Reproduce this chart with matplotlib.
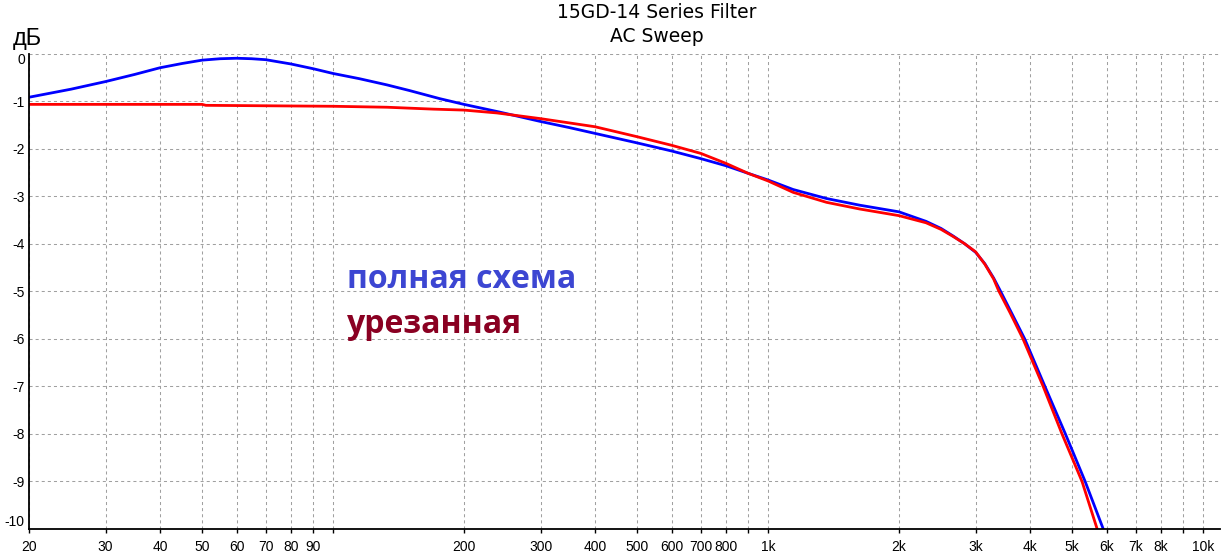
#!/usr/bin/env python3
# -*- coding: utf-8 -*-
"""AC sweep of the 15GD-14 series filter: full vs. trimmed circuit."""

import matplotlib
matplotlib.use("Agg")
import matplotlib.pyplot as plt
from matplotlib.ticker import FixedLocator, FixedFormatter

# ============== DATA ============== #
full_freq = [20, 25, 30, 35, 40, 45, 50, 55, 60, 65, 70, 80, 90, 100, 115,
             133, 150, 176, 200, 241, 300, 350, 400, 500, 600, 700, 800,
             900, 1000, 1142, 1363, 1624, 2000, 2308, 2500, 2666, 2830,
             3000, 3150, 3300, 3406, 3650, 3890, 4330, 4826, 5358, 5897,
             6000]
full_db = [-0.92, -0.75, -0.59, -0.44, -0.30, -0.21, -0.14, -0.11, -0.10,
           -0.11, -0.13, -0.22, -0.32, -0.42, -0.53, -0.66, -0.78, -0.95,
           -1.07, -1.23, -1.43, -1.56, -1.68, -1.88, -2.05, -2.21, -2.36,
           -2.52, -2.66, -2.86, -3.05, -3.19, -3.33, -3.53, -3.68, -3.84,
           -4.00, -4.18, -4.42, -4.72, -4.96, -5.50, -6.00, -7.00, -8.00,
           -9.00, -10.00, -10.2]

cut_freq = [20, 50, 51, 100, 133, 170, 200, 238, 300, 400, 500, 600, 700,
            800, 900, 1000, 1142, 1363, 1624, 2000, 2308, 2500, 2666, 2830,
            3000, 3150, 3300, 3390, 3600, 3855, 4290, 4740, 5270, 5710,
            5800]
cut_db = [-1.07, -1.07, -1.09, -1.11, -1.13, -1.17, -1.19, -1.25, -1.37,
          -1.54, -1.75, -1.93, -2.10, -2.31, -2.52, -2.68, -2.92, -3.13,
          -3.27, -3.41, -3.56, -3.70, -3.85, -4.00, -4.17, -4.43, -4.74,
          -4.99, -5.45, -6.00, -7.00, -8.00, -9.00, -10.00, -10.2]

x_ticks = [20, 30, 40, 50, 60, 70, 80, 90, 100, 200, 300, 400, 500, 600,
           700, 800, 900, 1000, 2000, 3000, 4000, 5000, 6000, 7000, 8000,
           9000, 10000]
x_labels = ["20", "30", "40", "50", "60", "70", "80", "90", "", "200",
            "300", "400", "500", "600", "700", "800", "", "1k", "2k", "3k",
            "4k", "5k", "6k", "7k", "8k", "", "10k"]
y_ticks = [0, -1, -2, -3, -4, -5, -6, -7, -8, -9, -10]
y_labels = ["0", "-1", "-2", "-3", "-4", "-5", "-6", "-7", "-8", "-9", "-10"]

title_lines = ["15GD-14 Series Filter", "AC Sweep"]
legend_full = "полная схема"
legend_cut = "урезанная"
# =========================================================== #

W, H = 1222, 554
plt.rcParams["font.family"] = ["Liberation Sans", "DejaVu Sans"]
plt.rcParams["lines.scale_dashes"] = False

fig = plt.figure(figsize=(W / 100, H / 100), dpi=100)
ax = fig.add_axes([29 / W, (H - 529) / H, 1191 / W, (529 - 53.5) / H])

ax.plot(full_freq, full_db, color="#0000ff", lw=2.0, solid_joinstyle="round")
ax.plot(cut_freq, cut_db, color="#ff0000", lw=2.0, solid_joinstyle="round")

ax.set_xscale("log")
ax.set_xlim(20, 10940)
ax.set_ylim(-10, 0)

ax.xaxis.set_major_locator(FixedLocator(x_ticks))
ax.xaxis.set_major_formatter(FixedFormatter(x_labels))
ax.xaxis.set_minor_locator(FixedLocator([]))
ax.yaxis.set_major_locator(FixedLocator(y_ticks))
ax.yaxis.set_major_formatter(FixedFormatter(y_labels))

ax.grid(True, color="#a0a0a0", lw=0.75, linestyle=(0, (2.2, 2.2)))
for side in ("top", "right"):
    ax.spines[side].set_visible(False)
for side in ("left", "bottom"):
    ax.spines[side].set_linewidth(1.3)
    ax.spines[side].set_color("black")

ax.tick_params(axis="x", length=3, width=1, pad=5, labelsize=10)
ax.tick_params(axis="y", length=0, pad=3, labelsize=10)

# keep the end labels inside the axis span, like the original tool does
ylabs = ax.get_yticklabels()
ylabs[0].set_va("top")
ylabs[-1].set_va("bottom")

# titles and axis unit
fig.text(657 / W, 1 - 13 / H, title_lines[0], ha="center", va="center",
         fontsize=13.5, family="DejaVu Sans")
fig.text(657 / W, 1 - 37 / H, title_lines[1], ha="center", va="center",
         fontsize=13.5, family="DejaVu Sans")
fig.text(13 / W, 1 - 39 / H, "дБ", ha="left", va="center", fontsize=17)

# in-plot legend labels
fig.text(347 / W, 1 - 288 / H, legend_full, ha="left", va="baseline",
         fontsize=23, fontweight="bold", family="Open Sans", color="#3c46d2")
fig.text(347 / W, 1 - 333 / H, legend_cut, ha="left", va="baseline",
         fontsize=23, fontweight="bold", family="Open Sans", color="#8a0022")

fig.savefig("out.png", dpi=100)
